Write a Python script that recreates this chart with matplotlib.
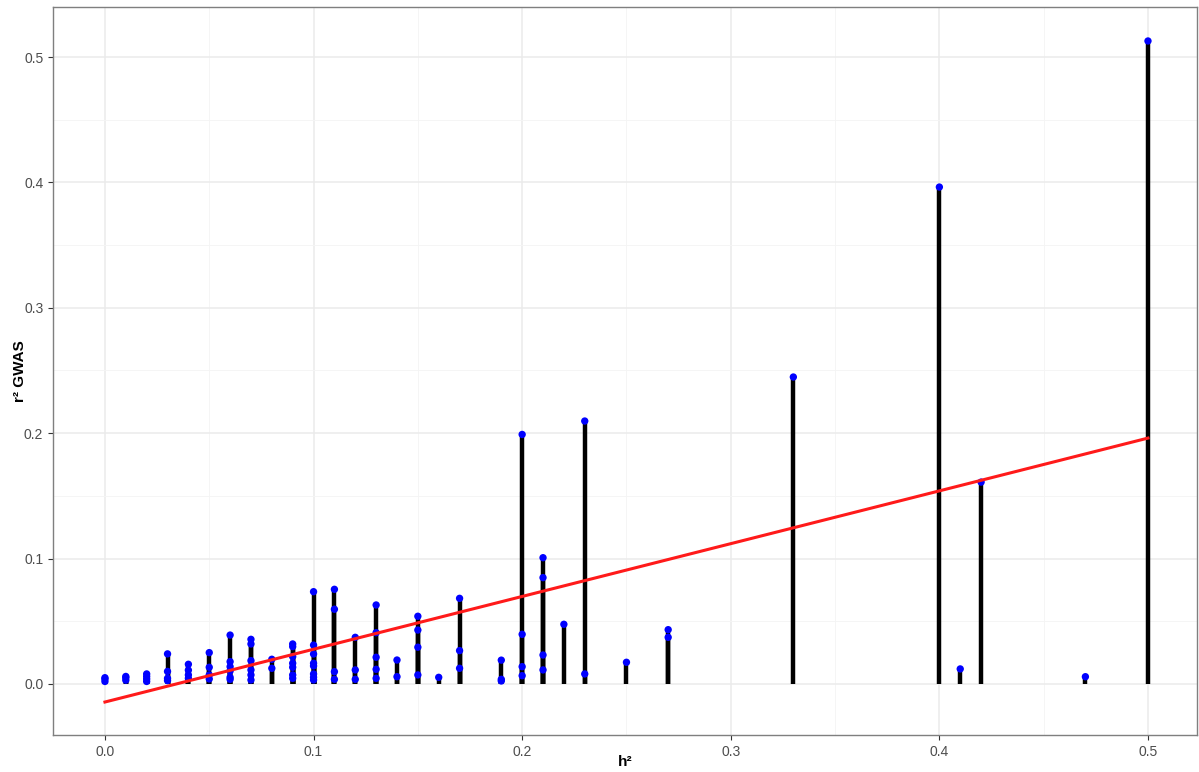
import numpy as np
import matplotlib.pyplot as plt

# heritability levels and the r2 of the GWAS hits found at each level
h2_levels = [0.00, 0.01, 0.02, 0.03, 0.04, 0.05, 0.06, 0.07, 0.08, 0.09,
             0.10, 0.11, 0.12, 0.13, 0.14, 0.15, 0.16, 0.17, 0.19, 0.20,
             0.21, 0.22, 0.23, 0.25, 0.27, 0.33, 0.40, 0.41, 0.42, 0.47, 0.50]
r2_gwas = [
    [0.002, 0.004, 0.005],
    [0.003, 0.005, 0.006],
    [0.002, 0.004, 0.006, 0.008],
    [0.024, 0.010, 0.0045, 0.0027],
    [0.0157, 0.011, 0.0072, 0.0045],
    [0.025, 0.0133, 0.0072, 0.004],
    [0.039, 0.0178, 0.0138, 0.0104, 0.0053, 0.0037],
    [0.0356, 0.0319, 0.0186, 0.0112, 0.0072, 0.0032],
    [0.0197, 0.0125],
    [0.0319, 0.0298, 0.0218, 0.0165, 0.0133, 0.0072, 0.0045],
    [0.0736, 0.031, 0.0239, 0.0165, 0.0144, 0.008, 0.0053, 0.0032],
    [0.0755, 0.0596, 0.0098, 0.0037],
    [0.0372, 0.0112, 0.0037],
    [0.063, 0.0409, 0.0213, 0.0117, 0.0045],
    [0.0191, 0.0058],
    [0.054, 0.043, 0.0293, 0.0072],
    [0.0053],
    [0.0683, 0.0266, 0.0125],
    [0.019, 0.0037, 0.0024],
    [0.199, 0.0396, 0.0138, 0.0066],
    [0.1007, 0.0848, 0.0231, 0.0112],
    [0.0476],
    [0.2097, 0.008],
    [0.0173],
    [0.0433, 0.0372],
    [0.2448],
    [0.3963],
    [0.012],
    [0.161],
    [0.0058],
    [0.5128],
]

# linear fit shown in red
fit_intercept = -0.0144
fit_slope = 0.421

x = np.concatenate([[h] * len(v) for h, v in zip(h2_levels, r2_gwas)])
y = np.concatenate(r2_gwas)

fig = plt.figure(figsize=(11.99, 7.72), dpi=100)
ax = fig.add_axes([53 / 1199, 37 / 772, 1144 / 1199, 728 / 772])

ax.set_xlim(-0.0249, 0.5235)
ax.set_ylim(-0.0407, 0.5399)

# theme_bw style grid
ax.set_xticks(np.arange(0, 0.51, 0.1))
ax.set_yticks(np.arange(0, 0.51, 0.1))
ax.set_xticks(np.arange(0.05, 0.51, 0.1), minor=True)
ax.set_yticks(np.arange(0.05, 0.51, 0.1), minor=True)
ax.grid(which='major', color='#EBEBEB', lw=1.1)
ax.grid(which='minor', color='#F4F4F4', lw=0.6)
ax.set_axisbelow(True)
ax.tick_params(which='minor', length=0)
ax.tick_params(which='major', length=3.5, width=0.8, color='#333333',
               labelsize=10, labelcolor='#4D4D4D')
ax.set_xticklabels(['0.0', '0.1', '0.2', '0.3', '0.4', '0.5'], family='Liberation Sans')
ax.set_yticklabels(['0.0', '0.1', '0.2', '0.3', '0.4', '0.5'], family='Liberation Sans')
for s in ax.spines.values():
    s.set_color('#7F7F7F')
    s.set_linewidth(1.0)

ax.vlines(x, 0, y, color='black', lw=3.2, zorder=2)
ax.scatter(x, y, s=28, color='blue', edgecolors='none', zorder=3)

xf = np.array([0.0, 0.5])
ax.plot(xf, fit_intercept + fit_slope * xf, color='#FF1A1A', lw=2.2, zorder=4)

ax.set_xlabel('h²', family='Liberation Sans', fontsize=11, fontweight='bold')
ax.set_ylabel('r² GWAS', family='Liberation Sans', fontsize=11, fontweight='bold')
ax.xaxis.set_label_coords(0.5, -0.037)
ax.xaxis.label.set_va('center')
ax.yaxis.set_label_coords(-0.0288, 0.5)
ax.yaxis.label.set_va('center')

fig.savefig('out.png', dpi=100)
